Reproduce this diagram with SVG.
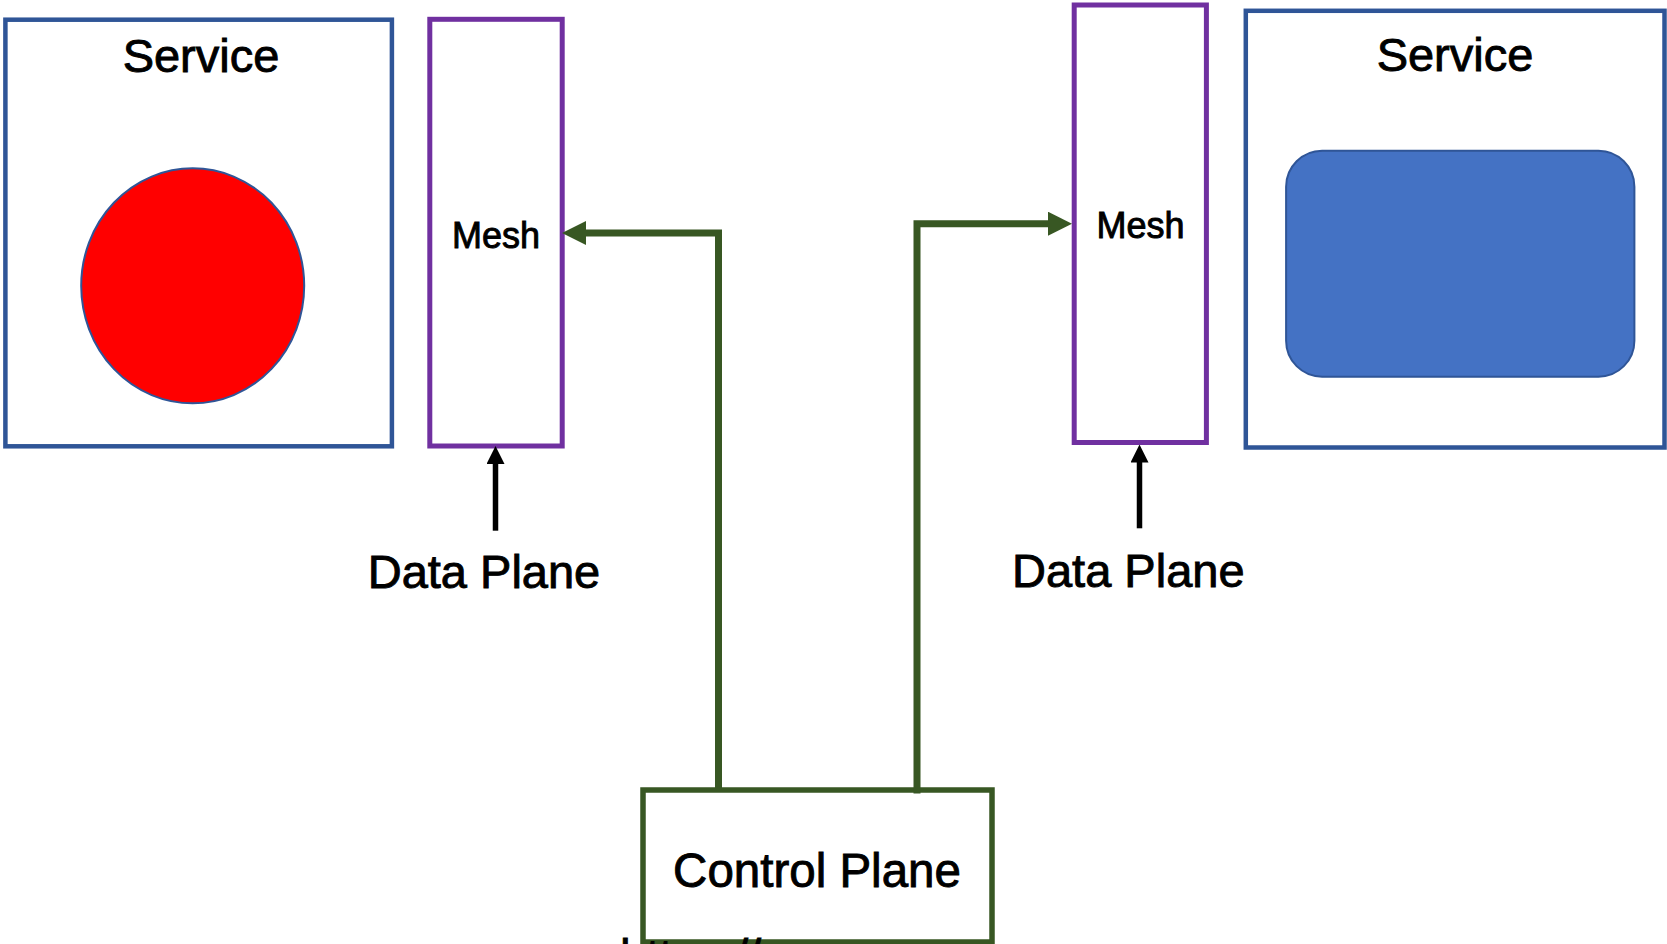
<svg xmlns="http://www.w3.org/2000/svg" width="1667" height="944" viewBox="0 0 1667 944">
<style>
.svc{fill:#FFFFFF;stroke:#2F5597;stroke-width:4.5}
.mesh{fill:#FFFFFF;stroke:#7030A0;stroke-width:5}
.ctrl{fill:#FFFFFF;stroke:#385723;stroke-width:5.5}
.t{font-family:"Liberation Sans",Arial,sans-serif;fill:#000000;stroke:#000000;stroke-width:0.9;text-anchor:middle}
.big{font-size:47px}
.med{font-size:36px}
.green{fill:none;stroke:#385723;stroke-width:7}
.dp{fill:none;stroke:#000000;stroke-width:5.5}
</style>
<defs>
<marker id="ga" markerUnits="userSpaceOnUse" viewBox="0 0 24 24" markerWidth="24" markerHeight="24" refX="2" refY="12" orient="auto">
<path d="M0,0 L24,12 L0,24 z" fill="#385723"/>
</marker>
<marker id="ba" markerUnits="userSpaceOnUse" viewBox="0 0 18 18" markerWidth="18" markerHeight="18" refX="2" refY="9" orient="auto">
<path d="M0,0 L18,9 L0,18 z" fill="#000000"/>
</marker>
</defs>
<rect width="1667" height="944" fill="#FFFFFF"/>
<g id="service-left">
<rect class="svc" x="5.4" y="19.7" width="386.5" height="426.6"/>
<text class="t big" x="201" y="71.7">Service</text>
<ellipse cx="192.7" cy="285.8" rx="111.5" ry="117.5" fill="#FF0000" stroke="#2F5597" stroke-width="2"/>
</g>
<g id="mesh-left">
<rect class="mesh" x="429.8" y="19.3" width="132.4" height="426.7"/>
<text class="t med" x="496" y="248.3">Mesh</text>
</g>
<g id="mesh-right">
<rect class="mesh" x="1074.2" y="5" width="132.2" height="437.5"/>
<text class="t med" x="1140.5" y="238.3">Mesh</text>
</g>
<g id="service-right">
<rect class="svc" x="1245.8" y="10.8" width="418.7" height="436.7"/>
<text class="t big" x="1455" y="70.7">Service</text>
<rect x="1286.1" y="150.7" width="348.3" height="226" rx="36" ry="36" fill="#4472C4" stroke="#2F5597" stroke-width="2"/>
</g>
<g id="data-plane-left">
<text class="t big" x="484" y="588.3">Data Plane</text>
</g>
<g id="data-plane-right">
<text class="t big" x="1128.3" y="586.7">Data Plane</text>
</g>
<g id="control-plane">
<rect class="ctrl" x="643" y="790" width="349" height="152"/>
<text class="t big" x="817" y="886.7" style="font-size:47.5px">Control Plane</text>
</g>
<g id="connectors">
<path class="green" d="M718.5,790 V233 H584" marker-end="url(#ga)"/>
<path class="green" d="M917,793.5 V223.7 H1050" marker-end="url(#ga)"/>
<path class="dp" d="M495.5,530.7 V462" marker-end="url(#ba)"/>
<path class="dp" d="M1139.5,528.3 V460.5" marker-end="url(#ba)"/>
</g>
<text class="t big" x="620" y="972" style="text-anchor:start">https://</text>
</svg>
